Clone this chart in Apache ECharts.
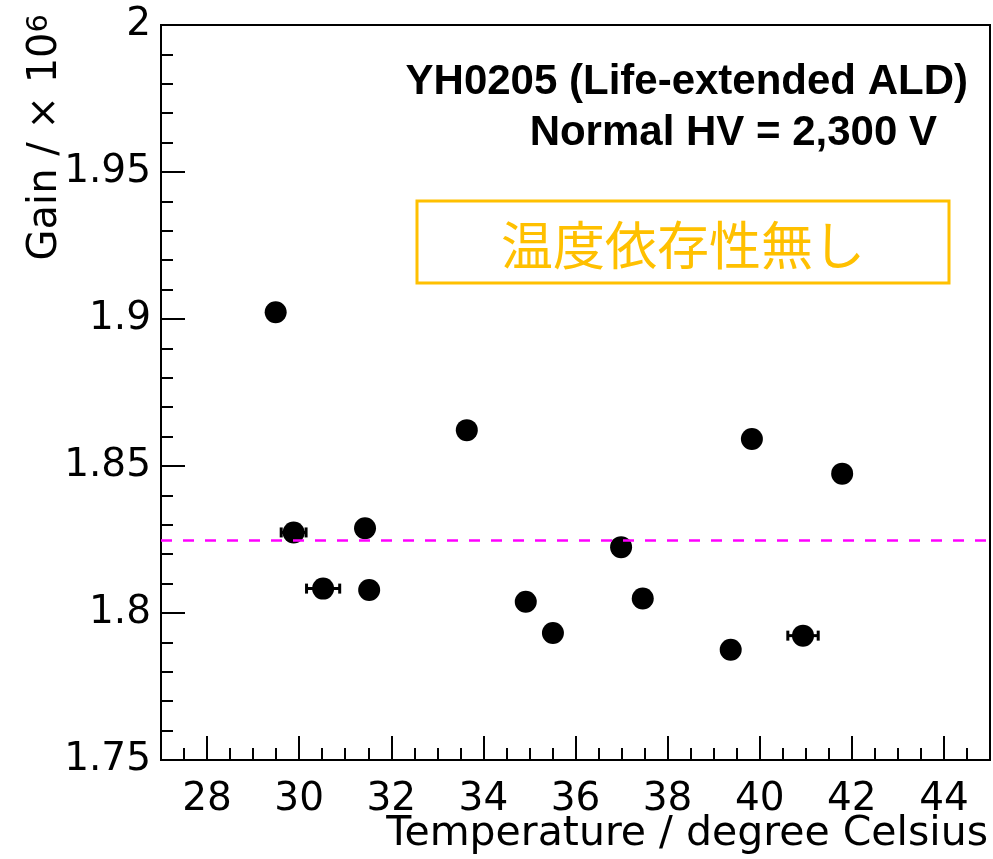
<!DOCTYPE html>
<html><head><meta charset="utf-8">
<script src="https://cdn.jsdelivr.net/npm/echarts@6/dist/echarts.min.js"></script>
<style>html,body{margin:0;padding:0;background:#fff}#c{width:993px;height:859px}</style>
</head><body><div id="c"></div>
<script>
// ---- data ----
const temperature = [29.49, 29.88, 31.43, 30.52, 31.52, 33.64, 34.92, 35.51, 36.99, 37.46, 39.83, 39.37, 40.94, 41.79];
const gain        = [1.9023, 1.8274, 1.8288, 1.8083, 1.8078, 1.8622, 1.8038, 1.7932, 1.8224, 1.8049, 1.8592, 1.7875, 1.7923, 1.8474];
const tempErr     = [0, 0.27, 0, 0.36, 0, 0, 0, 0, 0, 0, 0, 0, 0.33, 0];
const meanGain = 1.8249;
const xMajorTicks = [28, 30, 32, 34, 36, 38, 40, 42, 44];
const xMinorTicks = [27.5, 28.5, 29, 29.5, 30.5, 31, 31.5, 32.5, 33, 33.5, 34.5, 35, 35.5, 36.5, 37, 37.5,
                     38.5, 39, 39.5, 40.5, 41, 41.5, 42.5, 43, 43.5, 44.5];
const yTickLabels = ['1.75', '1.8', '1.85', '1.9', '1.95', '2'];
const titleText = 'YH0205 (Life-extended ALD)';
const hvText = 'Normal HV = 2,300 V';
const noteText = '温度依存性無し';
const xTitle = 'Temperature / degree Celsius';

const points = temperature.map((t, i) => [t, gain[i], tempErr[i]]);
const errPoints = points.filter(p => p[2] > 0);

const FONT = 'DejaVu Sans';
const chart = echarts.init(document.getElementById('c'), null, {renderer: 'canvas'});
const gridRect = {left: 161, right: 3, top: 25, bottom: 99};

chart.setOption({
  animation: false,
  backgroundColor: '#fff',
  grid: [
    Object.assign({show: true, borderColor: '#000', borderWidth: 2, backgroundColor: 'transparent'}, gridRect),
    Object.assign({show: false}, gridRect)
  ],
  xAxis: [
    {
      type: 'value', gridIndex: 0, min: 27, max: 45,
      axisLine: {show: true, lineStyle: {color: '#000', width: 2}},
      axisTick: {show: true, inside: true, length: 24, lineStyle: {color: '#000', width: 2}, customValues: xMajorTicks},
      axisLabel: {show: true, customValues: xMajorTicks, color: '#000', fontFamily: FONT, fontSize: 39, margin: 20},
      splitLine: {show: false}
    },
    {
      type: 'value', gridIndex: 1, min: 27, max: 45,
      axisLine: {show: false},
      axisTick: {show: true, inside: true, length: 12, lineStyle: {color: '#000', width: 2}, customValues: xMinorTicks},
      axisLabel: {show: false},
      splitLine: {show: false}
    }
  ],
  yAxis: [
    {
      type: 'value', gridIndex: 0, min: 1.75, max: 2, interval: 0.05,
      axisLine: {show: true, lineStyle: {color: '#000', width: 2}},
      axisTick: {show: true, inside: true, length: 24, lineStyle: {color: '#000', width: 2}},
      minorTick: {show: true, splitNumber: 5, length: 12, lineStyle: {color: '#000', width: 2}},
      axisLabel: {color: '#000', fontFamily: FONT, fontSize: 39, margin: 10,
                  formatter: v => yTickLabels.find(s => Math.abs(parseFloat(s) - v) < 1e-6) || ''},
      splitLine: {show: false}, minorSplitLine: {show: false}
    },
    {type: 'value', gridIndex: 1, min: 1.75, max: 2, show: false}
  ],
  series: [
    {
      type: 'custom', xAxisIndex: 0, yAxisIndex: 0, z: 3,
      data: errPoints,
      renderItem: function (params, api) {
        const x = api.value(0), y = api.value(1), e = api.value(2);
        const a = api.coord([x - e, y]), b = api.coord([x + e, y]);
        const st = {stroke: '#000', lineWidth: 3};
        return {type: 'group', children: [
          {type: 'line', shape: {x1: a[0], y1: a[1], x2: b[0], y2: b[1]}, style: st},
          {type: 'line', shape: {x1: a[0], y1: a[1] - 5, x2: a[0], y2: a[1] + 5}, style: st},
          {type: 'line', shape: {x1: b[0], y1: b[1] - 5, x2: b[0], y2: b[1] + 5}, style: st}
        ]};
      }
    },
    {
      type: 'scatter', xAxisIndex: 0, yAxisIndex: 0, z: 4,
      symbol: 'circle', symbolSize: 22,
      itemStyle: {color: '#000', opacity: 1},
      data: points.map(p => [p[0], p[1]]),
      markLine: {
        silent: true, symbol: 'none', animation: false, precision: 6,
        label: {show: false},
        lineStyle: {color: '#ff00ff', width: 2.5, type: [11, 11], opacity: 1},
        data: [{yAxis: meanGain}]
      }
    }
  ],
  graphic: [
    {type: 'text', x: 46, y: 14, rotation: Math.PI / 2,
     style: {text: 'Gain / × 10{s|6}', align: 'right', verticalAlign: 'middle', fill: '#000',
             font: '40px "DejaVu Sans"',
             rich: {s: {fontSize: 29, fontFamily: FONT, verticalAlign: 'top', fill: '#000', padding: [0, 0, 14, 0]}}}},
    {type: 'text', x: 988, y: 834,
     style: {text: xTitle, align: 'right', verticalAlign: 'middle', fill: '#000', font: '41px "DejaVu Sans"'}},
    {type: 'text', x: 968, y: 82,
     style: {text: titleText, align: 'right', verticalAlign: 'middle', fill: '#000', font: 'bold 42px "Liberation Sans"'}},
    {type: 'text', x: 937, y: 133,
     style: {text: hvText, align: 'right', verticalAlign: 'middle', fill: '#000', font: 'bold 42px "Liberation Sans"'}},
    {type: 'rect', shape: {x: 417, y: 201, width: 532, height: 82},
     style: {fill: 'none', stroke: '#ffc000', lineWidth: 3}},
    {type: 'text', x: 683, y: 245,
     style: {text: noteText, align: 'center', verticalAlign: 'middle', fill: '#ffc000', font: '52px "Noto Sans CJK JP"'}}
  ]
});
</script>
</body></html>
